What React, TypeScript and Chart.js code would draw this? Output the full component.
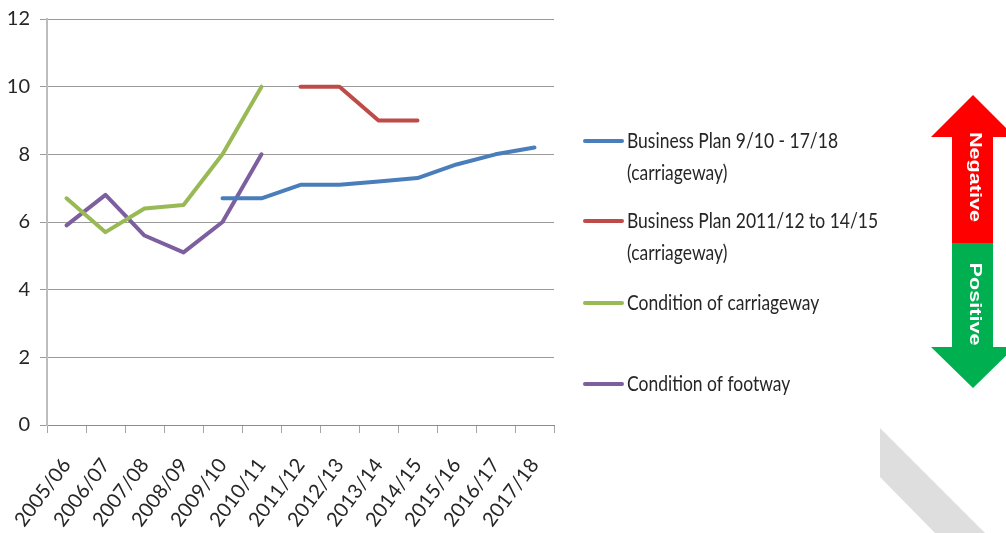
import React, { useEffect, useRef } from "react";
import { Chart, registerables } from "chart.js";

Chart.register(...registerables);

const categories = ["2005/06","2006/07","2007/08","2008/09","2009/10","2010/11","2011/12","2012/13","2013/14","2014/15","2015/16","2016/17","2017/18"];
const planA = [null,null,null,null,6.7,6.7,7.1,7.1,7.2,7.3,7.7,8.0,8.2];
const planB = [null,null,null,null,null,null,10,10,9,9,null,null,null];
const carriageway = [6.7,5.7,6.4,6.5,8,10,null,null,null,null,null,null,null];
const footway = [5.9,6.8,5.6,5.1,6,8,null,null,null,null,null,null,null];
const labelA = ["Business Plan 9/10 - 17/18", "(carriageway)"];
const labelB = ["Business Plan 2011/12 to 14/15", "(carriageway)"];
const labelC = ["Condition of carriageway"];
const labelD = ["Condition of footway"];
const legendY = [141, 221, 303, 384];
const FONT = "Lato, sans-serif";

const overlay = {
  id: "overlay",
  afterDraw(chart: any) {
    const ctx = chart.ctx;
    ctx.save();
    // decorative grey band
    ctx.fillStyle = "#dedede";
    ctx.beginPath();
    ctx.moveTo(880, 428); ctx.lineTo(880, 477); ctx.lineTo(935, 533); ctx.lineTo(985, 533);
    ctx.closePath(); ctx.fill();
    // legend
    chart.data.datasets.forEach((ds: any, i: number) => {
      const y = legendY[i];
      ctx.strokeStyle = ds.borderColor;
      ctx.lineWidth = 4;
      ctx.lineCap = "round";
      ctx.beginPath(); ctx.moveTo(585, y); ctx.lineTo(622, y); ctx.stroke();
      ctx.fillStyle = "#262626";
      ctx.font = `22px ${FONT}`;
      ctx.textBaseline = "middle";
      ctx.textAlign = "left";
      ds.label.split("\n").forEach((t: string, j: number) => {
        ctx.save();
        ctx.translate(627, y + j * 32);
        ctx.scale(0.795, 1);
        ctx.fillText(t, 0, 0);
        ctx.restore();
      });
    });
    // arrows
    ctx.fillStyle = "#ff0000";
    ctx.beginPath();
    ctx.moveTo(973, 95); ctx.lineTo(1015, 137); ctx.lineTo(993, 137); ctx.lineTo(993, 243);
    ctx.lineTo(952, 243); ctx.lineTo(952, 137); ctx.lineTo(931, 137);
    ctx.closePath(); ctx.fill();
    ctx.fillStyle = "#00b050";
    ctx.beginPath();
    ctx.moveTo(973, 388); ctx.lineTo(1015, 347); ctx.lineTo(993, 347); ctx.lineTo(993, 243);
    ctx.lineTo(952, 243); ctx.lineTo(952, 347); ctx.lineTo(931, 347);
    ctx.closePath(); ctx.fill();
    ctx.fillStyle = "#ffffff";
    ctx.font = "bold 16px 'Liberation Sans', sans-serif";
    ctx.textAlign = "center";
    ctx.textBaseline = "middle";
    ctx.save(); ctx.translate(974, 177); ctx.rotate(Math.PI / 2); ctx.scale(1.35, 1); ctx.fillText("Negative", 0, 0); ctx.restore();
    ctx.save(); ctx.translate(974, 304); ctx.rotate(Math.PI / 2); ctx.scale(1.35, 1); ctx.fillText("Positive", 0, 0); ctx.restore();
    ctx.restore();
  },
};

export default function App() {
  const ref = useRef<HTMLCanvasElement>(null);
  useEffect(() => {
    document.body.style.margin = "0";
    const line = (label: string, data: any[], color: string) => ({
      label, data, borderColor: color, backgroundColor: color, borderWidth: 4,
      pointRadius: 0, tension: 0, spanGaps: false, borderCapStyle: "round" as const, borderJoinStyle: "round" as const,
    });
    const chart = new Chart(ref.current!, {
      type: "line",
      data: {
        labels: categories,
        datasets: [
          line(labelA.join("\n"), planA, "#4a7ebb"),
          line(labelB.join("\n"), planB, "#be4b48"),
          line(labelC.join("\n"), carriageway, "#98b954"),
          line(labelD.join("\n"), footway, "#7d5fa0"),
        ],
      },
      options: {
        responsive: false,
        animation: false,
        layout: { padding: { top: 19, right: 452, left: 0, bottom: 0 } },
        plugins: { legend: { display: false }, tooltip: { enabled: false } },
        scales: {
          x: {
            offset: true,
            afterFit(a: any) { a.height = 108; a.paddingLeft = 0; a.paddingRight = 0; },
            grid: { display: true, drawOnChartArea: false, drawTicks: true, tickLength: 8, color: "#a6a6a6", offset: true } as any,
            border: { color: "#8c8c8c", width: 1 },
            ticks: { autoSkip: false, minRotation: 53, maxRotation: 53, color: "#262626", font: { family: FONT, size: 20 }, padding: 21 },
          },
          y: {
            min: 0, max: 12,
            afterFit(a: any) { a.width = 47; a.paddingTop = 0; a.paddingBottom = 0; },
            grid: { color: "#9a9a9a", tickLength: 7 },
            border: { color: "#bdbdbd", width: 2 },
            ticks: { stepSize: 2, color: "#262626", font: { family: FONT, size: 20 }, padding: 10 },
          },
        },
      },
      plugins: [overlay],
    });
    return () => chart.destroy();
  }, []);
  return <canvas ref={ref} width={1006} height={533} style={{ display: "block" }} />;
}
